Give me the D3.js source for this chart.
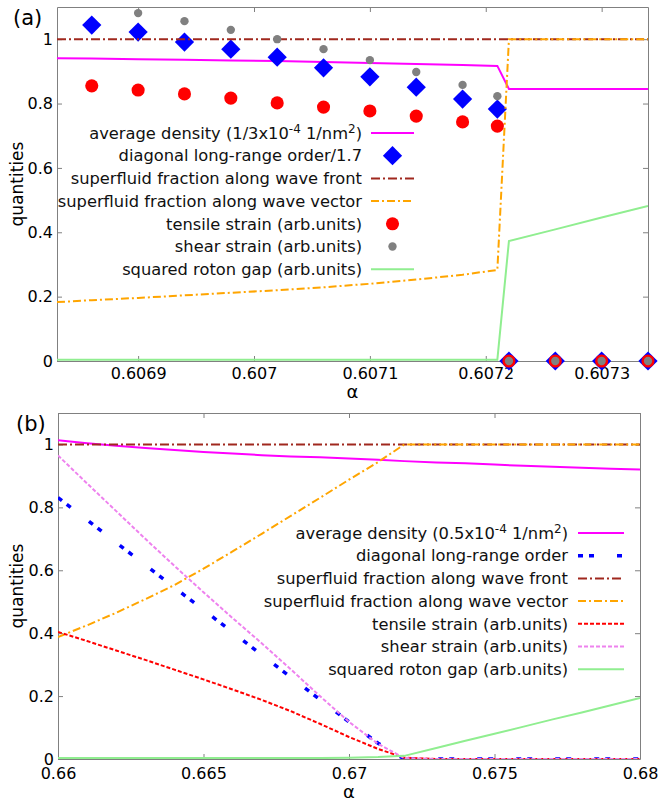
<!DOCTYPE html>
<html lang="en">
<head>
<meta charset="UTF-8">
<title>quantities vs alpha</title>
<script src="https://cdn.jsdelivr.net/npm/d3@7"></script>
<style>
  body{margin:0;background:#fff;}
  svg{display:block;font-family:"DejaVu Sans",sans-serif;}
  .frame path.domain{stroke:#808080;}
  .frame .tick line{stroke:#808080;}
  .frame .tick text{fill:#000;font-size:16px;font-family:"DejaVu Sans",sans-serif;}
  .legend text{font-size:16.3px;fill:#111;}
</style>
</head>
<body>
<div id="root"></div>
<script>
// ---- panel (a) data ----
let xTicksA = [0.6069, 0.607, 0.6071, 0.6072, 0.6073]
let xTickLabelsA = ["0.6069", "0.607", "0.6071", "0.6072", "0.6073"]
let yTicks = [0, 0.2, 0.4, 0.6, 0.8, 1]
let yTickLabels = ["0", "0.2", "0.4", "0.6", "0.8", "1"]

// point series
let xA = [0.60686, 0.6069, 0.60694, 0.60698, 0.60702, 0.60706, 0.6071, 0.60714, 0.60718, 0.60721, 0.60722, 0.60726, 0.6073, 0.60734]
let lroA = [1.044, 1.022, 0.991, 0.969, 0.944, 0.911, 0.883, 0.851, 0.814, 0.783, 0, 0, 0, 0]
let tensileA = [0.855, 0.842, 0.830, 0.817, 0.802, 0.789, 0.777, 0.761, 0.743, 0.730, 0, 0, 0, 0]
let shearA = [null, 1.081, 1.056, 1.029, 1.0, 0.969, 0.935, 0.898, 0.858, 0.823, 0, 0, 0, 0]

// line series
let xLineA = [0.60683, 0.60686, 0.6069, 0.60694, 0.60698, 0.60702, 0.60706, 0.6071, 0.60714, 0.60718, 0.60721, 0.60722, 0.60726, 0.6073, 0.60734]
let densityA = [0.941, 0.940, 0.938, 0.936, 0.934, 0.932, 0.929, 0.926, 0.923, 0.920, 0.917, 0.845, 0.845, 0.845, 0.845]
let sfFrontA = [1, 1, 1, 1, 1, 1, 1, 1, 1, 1, 1, 1, 1, 1, 1]
let sfVectorA = [0.183, 0.189, 0.196, 0.204, 0.212, 0.220, 0.229, 0.240, 0.253, 0.268, 0.283, 1, 1, 1, 1]
let gapA = [0.004, 0.004, 0.004, 0.004, 0.004, 0.004, 0.004, 0.004, 0.004, 0.004, 0.004, 0.373, 0.409, 0.446, 0.482]

// ---- panel (b) data ----
let xTicksB = [0.66, 0.665, 0.67, 0.675, 0.68]
let xTickLabelsB = ["0.66", "0.665", "0.67", "0.675", "0.68"]
let xB = [0.66, 0.661, 0.662, 0.663, 0.664, 0.665, 0.666, 0.667, 0.668, 0.669, 0.67, 0.671, 0.6719, 0.673, 0.674, 0.675, 0.676, 0.677, 0.678, 0.679, 0.68]
let densityB = [1.013, 1.004, 0.996, 0.989, 0.982, 0.976, 0.971, 0.966, 0.962, 0.959, 0.955, 0.951, 0.947, 0.943, 0.940, 0.936, 0.932, 0.929, 0.926, 0.923, 0.920]
let lroB = [0.831, 0.760, 0.688, 0.617, 0.545, 0.474, 0.403, 0.331, 0.260, 0.189, 0.118, 0.050, 0, 0, 0, 0, 0, 0, 0, 0, 0]
let sfFrontB = [1, 1, 1, 1, 1, 1, 1, 1, 1, 1, 1, 1, 1, 1, 1, 1, 1, 1, 1, 1, 1]
let sfVectorB = [0.388, 0.425, 0.465, 0.508, 0.553, 0.605, 0.660, 0.716, 0.773, 0.830, 0.888, 0.944, 1, 1, 1, 1, 1, 1, 1, 1, 1]
let tensileB = [0.404, 0.375, 0.345, 0.315, 0.284, 0.253, 0.221, 0.188, 0.152, 0.112, 0.070, 0.032, 0.004, 0, 0, 0, 0, 0, 0, 0, 0]
let shearB = [0.965, 0.876, 0.788, 0.700, 0.614, 0.530, 0.448, 0.368, 0.285, 0.200, 0.118, 0.048, 0.003, 0, 0, 0, 0, 0, 0, 0, 0]
let gapB = [0.003, 0.003, 0.003, 0.003, 0.003, 0.003, 0.003, 0.003, 0.003, 0.003, 0.004, 0.006, 0.010, 0.035, 0.058, 0.080, 0.103, 0.126, 0.148, 0.171, 0.194]

let zip = (xs, ys) => xs.map((v, i) => [v, ys[i]])

let width = 659, height = 802
let svg = d3.select("#root").append("svg").attr("width", width).attr("height", height)

function drawPanel(cfg) {
    let x = d3.scaleLinear().domain(cfg.xDomain).range([cfg.left, cfg.right])
    let y = d3.scaleLinear().domain([0, 1.1]).range([cfg.bottom, cfg.top])
    let g = svg.append("g")

    g.append("clipPath").attr("id", cfg.id + "-clip").append("rect")
        .attr("x", cfg.left).attr("y", cfg.top)
        .attr("width", cfg.right - cfg.left).attr("height", cfg.bottom - cfg.top)

    // frame: four axes with inward ticks
    let bottomAxis = d3.axisBottom(x).tickValues(cfg.xTicks).tickFormat((d, i) => cfg.xLabels[i])
        .tickSizeInner(-5).tickSizeOuter(0).tickPadding(cfg.xPad)
    let topAxis = d3.axisTop(x).tickValues(cfg.xTicks).tickFormat("").tickSizeInner(-5).tickSizeOuter(0)
    let leftAxis = d3.axisLeft(y).tickValues(yTicks).tickFormat((d, i) => yTickLabels[i])
        .tickSizeInner(-5).tickSizeOuter(0).tickPadding(4)
    let rightAxis = d3.axisRight(y).tickValues(yTicks).tickFormat("").tickSizeInner(-5).tickSizeOuter(0)

    g.append("g").attr("class", "frame").attr("transform", "translate(0," + cfg.bottom + ")").call(bottomAxis)
    g.append("g").attr("class", "frame").attr("transform", "translate(0," + cfg.top + ")").call(topAxis)
    g.append("g").attr("class", "frame").attr("transform", "translate(" + cfg.left + ",0)").call(leftAxis)
    g.append("g").attr("class", "frame").attr("transform", "translate(" + cfg.right + ",0)").call(rightAxis)

    let line = d3.line().defined(d => d[1] != null).x(d => x(d[0])).y(d => y(d[1]))
    let plot = g.append("g")

    cfg.series.forEach(s => {
        let pts = zip(s.xs, s.ys)
        if (s.kind == "line") {
            plot.append("path").datum(pts)
                .attr("clip-path", "url(#" + cfg.id + "-clip)")
                .attr("fill", "none").attr("stroke", s.color).attr("stroke-width", s.width)
                .attr("stroke-dasharray", s.dash || null)
                .attr("d", line)
        } else {
            plot.append("g").selectAll("path").data(pts.filter(d => d[1] != null)).join("path")
                .attr("d", d3.symbol(s.symbol, s.size)())
                .attr("fill", s.color)
                .attr("transform", d => "translate(" + x(d[0]) + "," + y(d[1]) + ")" + (s.rotate ? " rotate(45)" : ""))
        }
    })

    // legend
    let lg = g.append("g").attr("class", "legend")
    cfg.series.forEach((s, i) => {
        let ly = cfg.legendY + i * cfg.legendStep
        let t = lg.append("text").attr("x", cfg.legendTextX).attr("y", ly).attr("dy", "0.35em")
            .attr("text-anchor", "end")
        s.label.forEach(p => {
            let sp = t.append("tspan").text(p[0])
            if (p[1] == 1) sp.attr("dy", -6).attr("font-size", 12)
            if (p[1] == -1) sp.attr("dy", 6)
        })
        if (s.kind == "line") {
            lg.append("line").attr("x1", cfg.sampleX1).attr("x2", cfg.sampleX2).attr("y1", ly).attr("y2", ly)
                .attr("stroke", s.color).attr("stroke-width", s.width).attr("stroke-dasharray", s.dash || null)
        } else {
            lg.append("path").attr("d", d3.symbol(s.symbol, s.size)()).attr("fill", s.color)
                .attr("transform", "translate(" + (cfg.sampleX1 + cfg.sampleX2) / 2 + "," + ly + ")" + (s.rotate ? " rotate(45)" : ""))
        }
    })

    // labels
    g.append("text").attr("x", cfg.tagX).attr("y", cfg.tagY).attr("font-size", 21).text(cfg.tag)
    g.append("text").attr("transform", "translate(17," + (cfg.top + cfg.bottom) / 2 + ") rotate(-90)")
        .attr("text-anchor", "middle").attr("dy", "0.35em").attr("font-size", 17).text("quantities")
    g.append("text").attr("x", (cfg.left + cfg.right) / 2).attr("y", cfg.xLabelY)
        .attr("text-anchor", "middle").attr("dy", "0.35em").attr("font-size", 18).text("α")
}

drawPanel({
    id: "a", tag: "(a)", tagX: 13, tagY: 25,
    left: 57, right: 648, top: 7, bottom: 361, xLabelY: 392, xPad: 7,
    xDomain: [0.60683, 0.60734], xTicks: xTicksA, xLabels: xTickLabelsA,
    legendTextX: 362, sampleX1: 371, sampleX2: 414, legendY: 133, legendStep: 22.7,
    series: [
        {kind: "line", xs: xLineA, ys: densityA, color: "#ff00ff", width: 2,
            label: [["average density (1/3x10", 0], ["-4", 1], [" 1/nm", -1], ["2", 1], [")", -1]]},
        {kind: "point", xs: xA, ys: lroA, color: "#0000ff", symbol: d3.symbolSquare, size: 185, rotate: true,
            label: [["diagonal long-range order/1.7", 0]]},
        {kind: "line", xs: xLineA, ys: sfFrontA, color: "#a0281e", width: 2, dash: "9,3,2,3",
            label: [["superfluid fraction along wave front", 0]]},
        {kind: "line", xs: xLineA, ys: sfVectorA, color: "#ffa500", width: 2, dash: "8,3,2,3",
            label: [["superfluid fraction along wave vector", 0]]},
        {kind: "point", xs: xA, ys: tensileA, color: "#ff0000", symbol: d3.symbolCircle, size: 135,
            label: [["tensile strain (arb.units)", 0]]},
        {kind: "point", xs: xA, ys: shearA, color: "#808080", symbol: d3.symbolCircle, size: 55,
            label: [["shear strain (arb.units)", 0]]},
        {kind: "line", xs: xLineA, ys: gapA, color: "#90ee90", width: 2,
            label: [["squared roton gap (arb.units)", 0]]}
    ]
})

drawPanel({
    id: "b", tag: "(b)", tagX: 16, tagY: 431,
    left: 58, right: 640, top: 413, bottom: 759, xLabelY: 792, xPad: 9,
    xDomain: [0.66, 0.68], xTicks: xTicksB, xLabels: xTickLabelsB,
    legendTextX: 568, sampleX1: 578, sampleX2: 624, legendY: 533, legendStep: 22.7,
    series: [
        {kind: "line", xs: xB, ys: densityB, color: "#ff00ff", width: 2,
            label: [["average density (0.5x10", 0], ["-4", 1], [" 1/nm", -1], ["2", 1], [")", -1]]},
        {kind: "line", xs: xB, ys: lroB, color: "#0000ff", width: 3.5, dash: "5,6,5,23",
            label: [["diagonal long-range order", 0]]},
        {kind: "line", xs: xB, ys: sfFrontB, color: "#a0281e", width: 2, dash: "9,3,2,3",
            label: [["superfluid fraction along wave front", 0]]},
        {kind: "line", xs: xB, ys: sfVectorB, color: "#ffa500", width: 2, dash: "8,3,2,3",
            label: [["superfluid fraction along wave vector", 0]]},
        {kind: "line", xs: xB, ys: tensileB, color: "#ff0000", width: 2, dash: "4,2",
            label: [["tensile strain (arb.units)", 0]]},
        {kind: "line", xs: xB, ys: shearB, color: "#ee82ee", width: 2, dash: "4,2",
            label: [["shear strain (arb.units)", 0]]},
        {kind: "line", xs: xB, ys: gapB, color: "#90ee90", width: 2,
            label: [["squared roton gap (arb.units)", 0]]}
    ]
})
</script>
</body>
</html>
